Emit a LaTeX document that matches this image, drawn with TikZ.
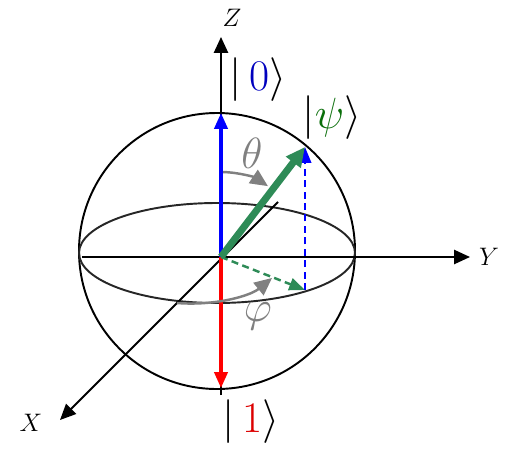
\documentclass[tikz,border=0pt]{standalone}
\usetikzlibrary{arrows.meta}
\definecolor{psigreen}{RGB}{46,139,87}
\definecolor{ketgreen}{RGB}{10,110,10}
\definecolor{ketblue}{RGB}{0,0,190}
\definecolor{ketred}{RGB}{220,0,0}
\tikzset{
  axis/.style={line width=1.1pt,-{Triangle[length=9pt,width=8pt]}},
  state/.style={line width=1.8pt,-{Triangle[length=9pt,width=7.5pt]}},
  angarrow/.style={gray,line width=1.4pt,-{Triangle[length=10pt,width=9pt]}},
  proj/.style={line width=1.4pt,dash pattern=on 4pt off 2.5pt,-{Triangle[length=9pt,width=7pt]}},
  ket/.style={font=\fontsize{23}{28}\selectfont},
  anglabel/.style={gray,font=\fontsize{24}{28}\selectfont},
  axlabel/.style={font=\fontsize{15}{18}\selectfont}
}
\begin{document}
\begin{tikzpicture}[x=0.02cm,y=-0.02cm]
  \useasboundingbox (0,0) rectangle (510,463);
  \coordinate (O) at (221,257);
  \coordinate (north) at (221,113);
  \coordinate (south) at (221,388);
  \coordinate (psi) at (305,147);
  \coordinate (foot) at (305,290);
  \coordinate (ztop) at (221,37);
  \coordinate (zbot) at (221,395);
  \coordinate (ytip) at (470,257);
  \coordinate (yend) at (82,257);
  \coordinate (xtip) at (60,420);
  \coordinate (xend) at (278,202);
  % sphere and equator
  \draw[line width=1.1pt] (217,251) circle (138);
  \draw[line width=1.1pt,black!85] (217,253) ellipse (138 and 50);
  % axes
  \draw[axis] (zbot)--(ztop);
  \draw[axis] (yend)--(ytip);
  \draw[axis] (xend)--(xtip);
  \node[axlabel] (zlab) at (232,18) {$Z$};
  \node[axlabel] (ylab) at (489,257) {$Y$};
  \node[axlabel] (xlab) at (31,423) {$X$};
  % basis states
  \draw[state,blue] (O)--(north);
  \draw[state,red] (O)--(south);
  \node[ket] (ket0) at (258,80) {$\bigl|\,\textcolor{ketblue}{0}\bigr\rangle$};
  \node[ket] (ket1) at (251,422) {$\bigl|\,\textcolor{ketred}{1}\bigr\rangle$};
  % projections
  \draw[proj,psigreen] (O)--(foot);
  \draw[proj,blue] (foot)--(psi);
  % state vector
  \draw[psigreen,line width=4pt,-{Triangle[length=11pt,width=10pt]}] (O)--(psi);
  \node[ket] (ketpsi) at (332,118) {$\bigl|\textcolor{ketgreen}{\psi}\bigr\rangle$};
  % angles
  \draw[angarrow] (O) ++(-88.6:85) arc(-88.6:-56.5:85);
  \draw[angarrow] (177,303) .. controls (215,306) and (250,296) .. (272,278);
  \node[anglabel] (thetalab) at (252,153) {$\theta$};
  \node[anglabel] (philab) at (258,316) {$\varphi$};
\end{tikzpicture}
\end{document}
